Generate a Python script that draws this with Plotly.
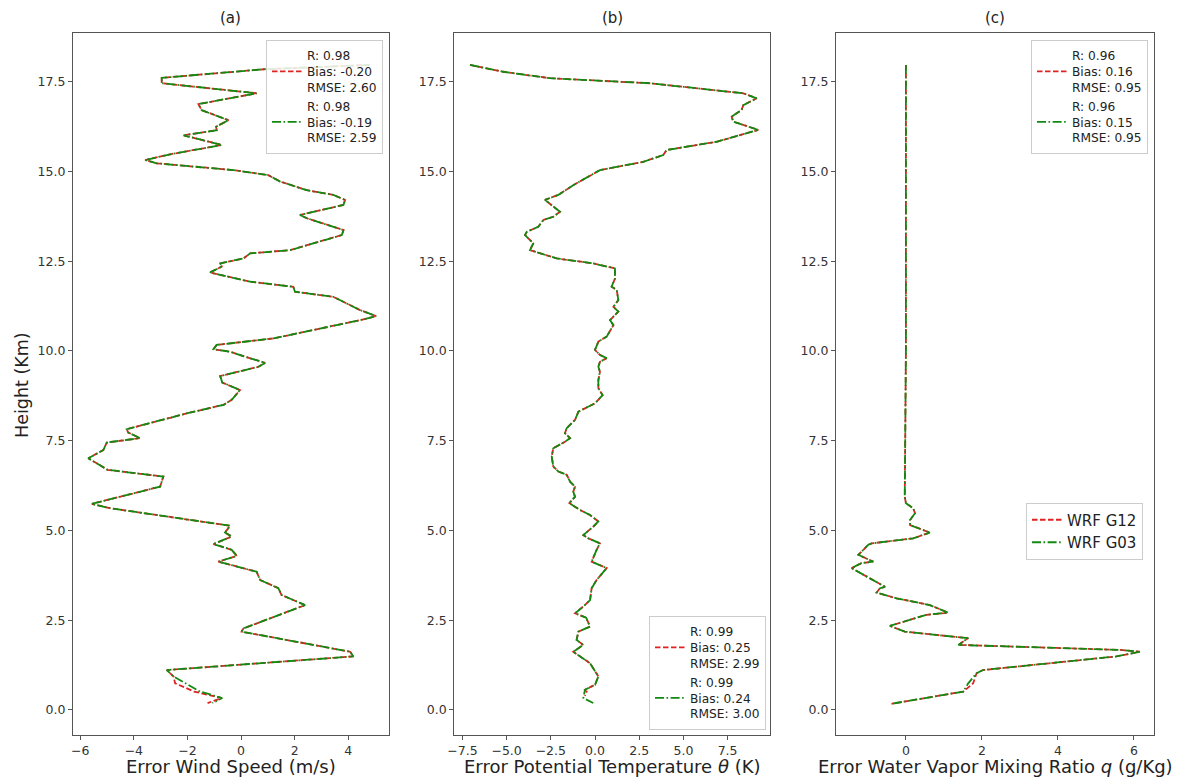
import plotly.graph_objects as go

# ---------------- data ----------------
# Panel (a): wind speed error
a_height = [17.97, 17.85, 17.61, 17.46, 17.18, 16.88, 16.71, 16.43, 16.25, 16.15, 16.01, 15.74,
            15.48, 15.32, 15.23, 15.04, 14.90, 14.72, 14.48, 14.35, 14.21, 14.07, 13.79, 13.70,
            13.37, 13.23, 12.81, 12.72, 12.58, 12.44, 12.35, 12.19, 12.12, 11.93, 11.79, 11.65,
            11.51, 11.14, 10.97, 10.86, 10.35, 10.17, 10.05, 9.98, 9.84, 9.67, 9.56, 9.30, 9.12,
            8.91, 8.64, 8.50, 8.26, 7.82, 7.73, 7.57, 7.45, 7.24, 7.01, 6.69, 6.50, 6.22, 5.74,
            5.62, 5.13, 4.94, 4.83, 4.62, 4.46, 4.29, 4.13, 3.85, 3.62, 3.39, 3.20, 2.92, 2.27,
            2.18, 1.62, 1.49, 1.11, 0.93, 0.74, 0.51, 0.33, 0.19]
a_g03 = [4.80, 0.85, -2.96, -2.96, 0.58, -1.59, -1.47, -0.47, -0.93, -0.91, -2.15, -0.72,
         -2.65, -3.58, -3.15, -0.29, 1.02, 1.46, 2.45, 3.44, 3.88, 3.82, 2.20, 2.45,
         3.82, 3.76, 1.83, 0.34, 0.09, -0.78, -0.72, -1.16, -0.78, 0.34, 1.95, 2.01,
         3.44, 4.44, 5.04, 4.44, 1.21, -0.91, -1.03, -0.41, 0.15, 0.90, 0.65, -0.78, -0.70,
         -0.04, -0.35, -0.65, -2.03, -4.27, -4.21, -3.77, -5.01, -5.14, -5.70, -4.98, -2.90, -3.02, -5.57,
         -4.89, -0.41, -0.60, -0.35, -1.03, -0.35, -0.16, -0.85, 0.58, 0.71, 1.39, 1.51, 2.39, 0.09,
         0.02, 4.07, 4.19, -2.77, -2.52, -2.07, -1.53, -0.70, -1.07]
a_g12 = a_g03[:-4] + [-2.46, -1.75, -0.72, -1.25]

# Panel (b): potential temperature error
b_height = [17.97, 17.78, 17.60, 17.46, 17.18, 17.04, 16.85, 16.71, 16.53, 16.39, 16.16, 15.83,
            15.60, 15.46, 15.27, 15.04, 14.62, 14.35, 14.21, 13.88, 13.74, 13.65, 13.46, 13.32,
            13.23, 13.00, 12.81, 12.58, 12.44, 12.30, 12.02, 11.79, 11.70, 11.42, 11.23, 11.10,
            10.86, 10.72, 10.40, 10.26, 10.03, 9.89, 9.80, 9.70, 9.56, 9.42, 9.19, 8.96, 8.77,
            8.54, 8.31, 8.08, 7.85, 7.71, 7.57, 7.47, 7.29, 7.06, 6.78, 6.64, 6.55, 6.36, 6.22,
            6.08, 5.94, 5.76, 5.57, 5.43, 5.25, 5.11, 4.87, 4.78, 4.64, 4.46, 4.13, 4.04, 3.95,
            3.62, 3.39, 3.06, 2.88, 2.69, 2.57, 2.32, 2.18, 1.95, 1.81, 1.62, 1.30, 0.93, 0.70,
            0.56, 0.51, 0.39, 0.33, 0.19]
b_g12 = [-7.07, -5.19, -2.55, 3.11, 8.39, 9.15, 8.39, 8.29, 7.73, 7.82, 9.24, 6.88,
         4.05, 3.86, 2.73, 0.28, -1.23, -2.07, -2.83, -1.98, -2.36, -2.92, -3.21, -3.86,
         -3.96, -3.49, -3.68, -2.17, -0.09, 1.13, 1.13, 0.94, 1.23, 1.32, 1.04, 1.32,
         0.85, 1.04, 0.66, 0.19, 0.00, 0.28, 0.66, 0.28, 0.19, 0.28, 0.19, 0.19, 0.43,
         0.00, -0.94, -1.13, -1.60, -1.70, -1.41, -1.70, -2.36, -2.45, -2.36, -2.07, -1.60, -1.41, -1.13,
         -1.23, -1.13, -1.45, -0.85, -0.28, 0.19, -0.09, -0.66, -0.38, 0.28, 0.09, -0.19, 0.19, 0.66,
         0.09, -0.19, -0.28, -0.66, -1.13, -0.50, -0.28, -0.94, -1.04, -0.66, -1.23, -0.28, 0.19, 0.00,
         -0.57, -0.47, -0.57, None, None]
b_g03 = b_g12[:-4] + [None, None, -0.66, -0.10]

# Panel (c): water vapour mixing ratio error
c_height = [17.97, 15.00, 12.50, 10.00, 7.50, 6.87, 5.94, 5.76, 5.62, 5.48, 5.29, 5.15, 4.94,
            4.78, 4.64, 4.60, 4.32, 4.13, 4.09, 3.95, 3.71, 3.43, 3.39, 3.27, 3.11, 2.92, 2.71,
            2.65, 2.34, 2.18, 2.04, 2.00, 1.81, 1.67, 1.62, 1.49, 1.11, 1.02, 0.74, 0.51, 0.17]
c_g12 = [0.00, 0.01, 0.00, 0.00, -0.02, -0.03, -0.03, 0.00, 0.19, 0.24, 0.11, 0.11, 0.63,
         0.19, -0.90, -0.99, -1.25, -0.86, -1.17, -1.43, -1.04, -0.55, -0.68, -0.77, -0.25, 0.63, 1.11,
         0.54, -0.42, -0.03, 1.24, 1.64, 1.38, 5.63, 6.16, 5.54, 2.03, 1.86, 1.77, 1.51, -0.38]
c_g03 = c_g12[:-3] + [1.64, 1.51, -0.38]

# legend statistics
a_stats = [("0.98", "-0.20", "2.60"), ("0.98", "-0.19", "2.59")]
b_stats = [("0.99", "0.25", "2.99"), ("0.99", "0.24", "3.00")]
c_stats = [("0.96", "0.16", "0.95"), ("0.96", "0.15", "0.95")]
series_names = ["WRF G12", "WRF G03"]

titles = ["(a)", "(b)", "(c)"]
xlabels = ["Error Wind Speed (m/s)",
           "Error Potential Temperature <i>θ</i> (K)",
           "Error Water Vapor Mixing Ratio <i>q</i> (g/Kg)"]
ylabel = "Height (Km)"
y_ticks = [0.0, 2.5, 5.0, 7.5, 10.0, 12.5, 15.0, 17.5]
a_xticks = [-6, -4, -2, 0, 2, 4]
b_xticks = [-7.5, -5.0, -2.5, 0.0, 2.5, 5.0, 7.5, 10.0]
c_xticks = [0, 2, 4, 6]

# ---------------- figure ----------------
W, H = 1185, 783
OFF = 8  # page body margin of the html page
FONT = "DejaVu Sans"
RED = "#e02222"
GREEN = "#128a12"
RED_DASH = "5.5px,2.5px"
GREEN_DASH = "9px,2.5px,1.6px,2.5px"


def px(sx):
    return (sx - OFF) / W


def py(sy):
    return 1 - (sy - OFF) / H


fig = go.Figure()


def stat_label(s):
    return f"R: {s[0]}<br>Bias: {s[1]}<br>RMSE: {s[2]}"


panels = [
    (a_height, a_g12, a_g03, a_stats, "x", "y", "legend"),
    (b_height, b_g12, b_g03, b_stats, "x2", "y2", "legend2"),
    (c_height, c_g12, c_g03, c_stats, "x3", "y3", "legend3"),
]
for hts, g12, g03, stats, xa, ya, lg in panels:
    fig.add_trace(go.Scatter(x=g12, y=hts, mode="lines", name=stat_label(stats[0]),
                             line=dict(color=RED, width=1.8, dash=RED_DASH),
                             connectgaps=True, xaxis=xa, yaxis=ya, legend=lg))
    fig.add_trace(go.Scatter(x=g03, y=hts, mode="lines", name=stat_label(stats[1]),
                             line=dict(color=GREEN, width=1.8, dash=GREEN_DASH),
                             connectgaps=True, xaxis=xa, yaxis=ya, legend=lg))

# second legend in panel (c): series names
fig.add_trace(go.Scatter(x=[None], y=[None], mode="lines", name=series_names[0],
                         line=dict(color=RED, width=1.8, dash=RED_DASH),
                         xaxis="x3", yaxis="y3", legend="legend4"))
fig.add_trace(go.Scatter(x=[None], y=[None], mode="lines", name=series_names[1],
                         line=dict(color=GREEN, width=1.8, dash=GREEN_DASH),
                         xaxis="x3", yaxis="y3", legend="legend4"))

AX = dict(showline=True, linecolor="#555", linewidth=1.2, mirror=True,
          ticks="outside", ticklen=4, tickcolor="#555", tickwidth=1.1,
          showgrid=False, zeroline=False, automargin=False,
          tickfont=dict(family=FONT, size=12.5, color="#333"))

ydom = [py(735), py(33)]
xdoms = [[px(73), px(388.5)], [px(454.3), px(770)], [px(836), px(1154)]]
xranges = [[-6.27, 5.50], [-7.96, 9.90], [-1.84, 6.53]]
yrange = [-0.70, 18.86]


def fmt_tick(v, dec):
    s = f"{v:.{dec}f}"
    return s.replace("-", "−")


xtick_sets = [(a_xticks, 0), (b_xticks, 1), (c_xticks, 0)]
layout_axes = {}
for i in range(3):
    sfx = "" if i == 0 else str(i + 1)
    tv, dec = xtick_sets[i]
    layout_axes["xaxis" + sfx] = dict(AX, domain=xdoms[i], range=xranges[i],
                                      anchor="y" + sfx, tickvals=tv,
                                      ticktext=[fmt_tick(v, dec) for v in tv])
    layout_axes["yaxis" + sfx] = dict(AX, domain=ydom, range=yrange,
                                      anchor="x" + sfx, tickvals=y_ticks,
                                      ticktext=[f"{v:.1f}" for v in y_ticks])

LEG = dict(bgcolor="rgba(255,255,255,0.85)", bordercolor="#cccccc", borderwidth=1,
           font=dict(family=FONT, size=12.2, color="#222"), xref="paper", yref="paper",
           itemwidth=30, tracegroupgap=0)

annotations = []
for i in range(3):
    cx = (xdoms[i][0] + xdoms[i][1]) / 2
    annotations.append(dict(text=titles[i], x=cx, y=py(18), xref="paper", yref="paper",
                            showarrow=False, xanchor="center", yanchor="middle",
                            font=dict(family=FONT, size=15, color="#222")))
    annotations.append(dict(text=xlabels[i], x=cx, y=py(766), xref="paper", yref="paper",
                            showarrow=False, xanchor="center", yanchor="middle",
                            font=dict(family=FONT, size=18, color="#222")))
annotations.append(dict(text=ylabel, x=px(22), y=py(385), xref="paper", yref="paper",
                        showarrow=False, textangle=-90, xanchor="center", yanchor="middle",
                        font=dict(family=FONT, size=17.5, color="#222")))

fig.update_layout(
    width=W, height=H,
    margin=dict(l=0, r=0, t=0, b=0, autoexpand=False),
    plot_bgcolor="white", paper_bgcolor="white",
    showlegend=True,
    legend=dict(LEG, x=px(383), y=py(40), xanchor="right", yanchor="top"),
    legend2=dict(LEG, x=px(766), y=py(730), xanchor="right", yanchor="bottom"),
    legend3=dict(LEG, x=px(1148), y=py(40), xanchor="right", yanchor="top"),
    legend4=dict(LEG, x=px(1143), y=py(531), xanchor="right", yanchor="middle",
                 font=dict(family=FONT, size=15, color="#222")),
    annotations=annotations,
    **layout_axes,
)

fig.write_html("out.html")
